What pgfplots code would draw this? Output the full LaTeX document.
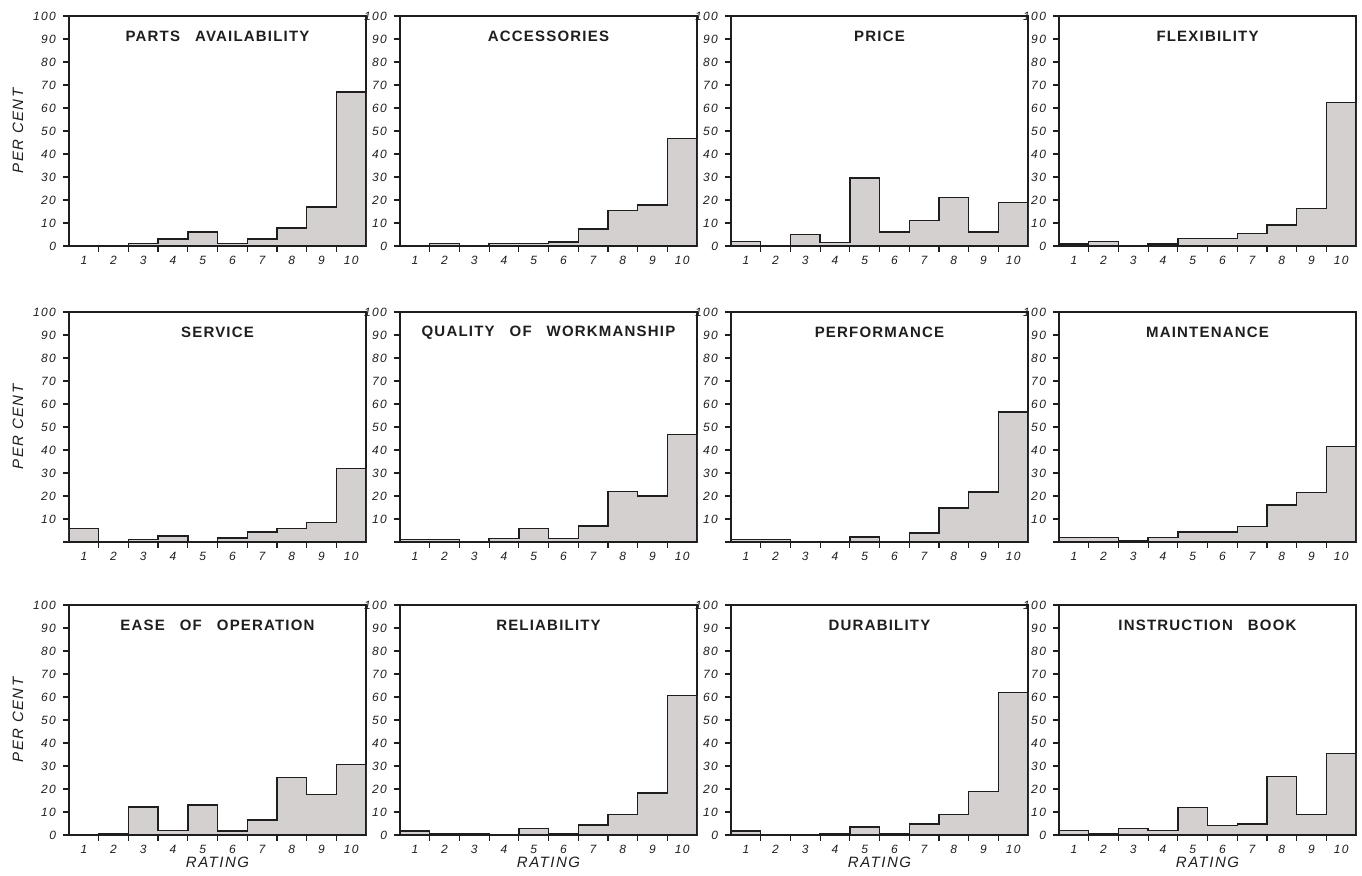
\documentclass[border=0pt]{standalone}
\usepackage{fontspec}
\setmainfont{Liberation Sans}
\usepackage{pgfplots}
\pgfplotsset{compat=1.18}
\definecolor{barfill}{RGB}{212,208,208}
\definecolor{ink}{RGB}{30,30,30}
\newcommand\tickfont{\fontsize{6}{7}\selectfont\itshape\addfontfeature{LetterSpace=12}}
\newcommand\ttlfont{\fontsize{7.5}{8}\selectfont\bfseries\addfontfeature{LetterSpace=8}}
\newcommand\lblfont{\fontsize{7.5}{8}\selectfont\itshape\addfontfeature{LetterSpace=10}}
\pgfplotsset{
  panel/.style={
    scale only axis, width=148.5pt, height=115pt, anchor=south west,
    xmin=0.5, xmax=10.5, ymin=0, ymax=100,
    axis line style={line width=0.9pt, ink},
    xtick={1,...,10}, minor xtick={1.5,2.5,...,9.5},
    ytick={0,10,...,100},
    tick align=outside, xtick pos=bottom, ytick pos=left,
    major tick length=3pt, minor tick length=3pt,
    major x tick style={draw=none},
    every tick/.style={ink, line width=0.6pt},
    tick label style={font=\tickfont, text=ink},
    /pgf/number format/assume math mode=true,
    xticklabel style={yshift=1.5pt},
    every axis title shift=0pt,
    title style={at={(axis description cs:0.5,0.91)}, anchor=center, font=\ttlfont, text=ink},
    ylabel style={at={(axis description cs:-0.172,0.5)}, anchor=center, font=\lblfont, text=ink},
    xlabel style={at={(axis description cs:0.5,-0.118)}, anchor=center, font=\lblfont, text=ink},
  },
  row2/.style={yticklabels={,10,20,30,40,50,60,70,80,90,100}},
  bar/.style={const plot mark left, fill=barfill, draw=ink, line width=0.7pt, mark=none},
}
\begin{document}
\begin{tikzpicture}
\path[use as bounding box] (0,0) rectangle (681pt,438pt);
% ---------------- row 1 ----------------
\begin{axis}[panel, at={(34.5pt,315pt)}, title={PARTS\quad AVAILABILITY}, ylabel={PER CENT}]
\addplot[bar] coordinates {(0.5,0) (1.5,0) (2.5,1.2) (3.5,3) (4.5,6) (5.5,1) (6.5,3) (7.5,7.8) (8.5,17) (9.5,67) (10.5,67)} \closedcycle;
\end{axis}
\begin{axis}[panel, at={(200pt,315pt)}, title={ACCESSORIES}]
\addplot[bar] coordinates {(0.5,0) (1.5,1.2) (2.5,0) (3.5,1) (4.5,1) (5.5,1.7) (6.5,7.3) (7.5,15.3) (8.5,17.9) (9.5,46.8) (10.5,46.8)} \closedcycle;
\end{axis}
\begin{axis}[panel, at={(365.5pt,315pt)}, title={PRICE}]
\addplot[bar] coordinates {(0.5,2) (1.5,0) (2.5,5) (3.5,1.5) (4.5,29.5) (5.5,6) (6.5,11) (7.5,21) (8.5,6) (9.5,19) (10.5,19)} \closedcycle;
\end{axis}
\begin{axis}[panel, at={(529.5pt,315pt)}, title={FLEXIBILITY}]
\addplot[bar] coordinates {(0.5,0.8) (1.5,2) (2.5,0) (3.5,0.8) (4.5,3.3) (5.5,3.3) (6.5,5.5) (7.5,9.2) (8.5,16.3) (9.5,62.3) (10.5,62.3)} \closedcycle;
\end{axis}
% ---------------- row 2 ----------------
\begin{axis}[panel, row2, at={(34.5pt,167pt)}, title={SERVICE}, ylabel={PER CENT}]
\addplot[bar] coordinates {(0.5,5.8) (1.5,0) (2.5,1.2) (3.5,2.6) (4.5,0) (5.5,1.7) (6.5,4.3) (7.5,5.8) (8.5,8.4) (9.5,32) (10.5,32)} \closedcycle;
\end{axis}
\begin{axis}[panel, row2, at={(200pt,167pt)}, title={QUALITY\quad OF\quad WORKMANSHIP}]
\addplot[bar] coordinates {(0.5,1) (1.5,1) (2.5,0) (3.5,1.5) (4.5,5.8) (5.5,1.5) (6.5,6.9) (7.5,21.9) (8.5,20) (9.5,46.7) (10.5,46.7)} \closedcycle;
\end{axis}
\begin{axis}[panel, row2, at={(365.5pt,167pt)}, title={PERFORMANCE}]
\addplot[bar] coordinates {(0.5,1) (1.5,1) (2.5,0) (3.5,0) (4.5,2.2) (5.5,0) (6.5,3.9) (7.5,14.8) (8.5,21.7) (9.5,56.6) (10.5,56.6)} \closedcycle;
\end{axis}
\begin{axis}[panel, row2, at={(529.5pt,167pt)}, title={MAINTENANCE}]
\addplot[bar] coordinates {(0.5,1.9) (1.5,1.9) (2.5,0.5) (3.5,1.9) (4.5,4.4) (5.5,4.4) (6.5,6.8) (7.5,16) (8.5,21.5) (9.5,41.5) (10.5,41.5)} \closedcycle;
\end{axis}
% ---------------- row 3 ----------------
\begin{axis}[panel, at={(34.5pt,20.5pt)}, title={EASE\quad OF\quad OPERATION}, ylabel={PER CENT}, xlabel={RATING}]
\addplot[bar] coordinates {(0.5,0) (1.5,0.5) (2.5,12.2) (3.5,2) (4.5,13) (5.5,1.7) (6.5,6.5) (7.5,25) (8.5,17.5) (9.5,30.6) (10.5,30.6)} \closedcycle;
\end{axis}
\begin{axis}[panel, at={(200pt,20.5pt)}, title={RELIABILITY}, xlabel={RATING}]
\addplot[bar] coordinates {(0.5,1.7) (1.5,0.5) (2.5,0.4) (3.5,0) (4.5,2.9) (5.5,0.6) (6.5,4.4) (7.5,9) (8.5,18.2) (9.5,60.7) (10.5,60.7)} \closedcycle;
\end{axis}
\begin{axis}[panel, at={(365.5pt,20.5pt)}, title={DURABILITY}, xlabel={RATING}]
\addplot[bar] coordinates {(0.5,1.8) (1.5,0) (2.5,0) (3.5,0.7) (4.5,3.4) (5.5,0.7) (6.5,4.8) (7.5,8.8) (8.5,19) (9.5,62) (10.5,62)} \closedcycle;
\end{axis}
\begin{axis}[panel, at={(529.5pt,20.5pt)}, title={INSTRUCTION\quad BOOK}, xlabel={RATING}]
\addplot[bar] coordinates {(0.5,1.9) (1.5,0.7) (2.5,2.9) (3.5,1.9) (4.5,12) (5.5,4) (6.5,4.7) (7.5,25.5) (8.5,8.8) (9.5,35.5) (10.5,35.5)} \closedcycle;
\end{axis}
\end{tikzpicture}
\end{document}
